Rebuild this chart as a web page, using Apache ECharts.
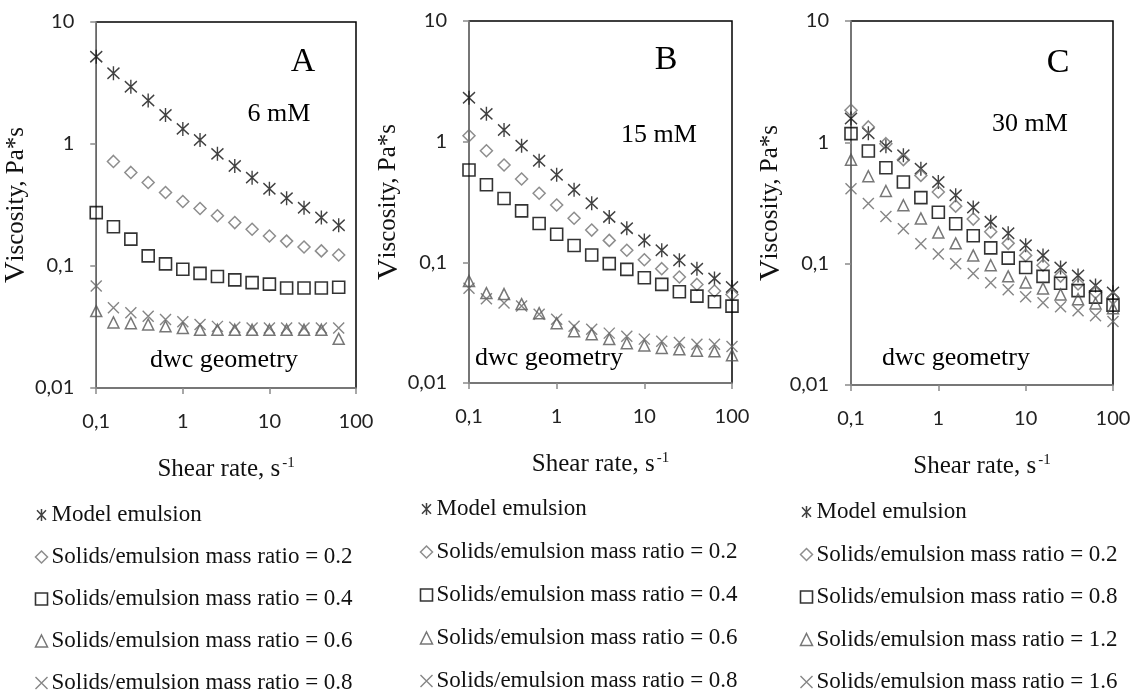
<!DOCTYPE html>
<html>
<head>
<meta charset="utf-8">
<title>Viscosity vs shear rate</title>
<script src="https://cdn.jsdelivr.net/npm/echarts@6/dist/echarts.min.js"></script>
<style>
  html, body { margin: 0; padding: 0; background: #fff; }
  #chart { width: 1135px; height: 692px; }
</style>
</head>
<body>
<div id="chart"></div>
<script>
// shear rate points, 5 per decade
var shearA = [0.1, 0.158, 0.251, 0.398, 0.631, 1, 1.58, 2.51, 3.98, 6.31, 10, 15.8, 25.1, 39.8, 63.1];
var shearBC = [0.1, 0.158, 0.251, 0.398, 0.631, 1, 1.58, 2.51, 3.98, 6.31, 10, 15.8, 25.1, 39.8, 63.1, 100];

// panel A, 6 mM (diamonds start at the 2nd shear rate)
var modelA = [5.2, 3.8, 2.95, 2.27, 1.73, 1.33, 1.08, 0.83, 0.66, 0.53, 0.43, 0.36, 0.30, 0.25, 0.216];
var ratio02A = [0.72, 0.585, 0.484, 0.40, 0.338, 0.296, 0.258, 0.227, 0.20, 0.176, 0.160, 0.143, 0.133, 0.123];
var ratio04A = [0.274, 0.21, 0.166, 0.121, 0.104, 0.094, 0.087, 0.082, 0.077, 0.073, 0.071, 0.066, 0.066, 0.066, 0.067];
var ratio06A = [0.0427, 0.0345, 0.034, 0.0332, 0.032, 0.031, 0.030, 0.030, 0.030, 0.030, 0.030, 0.030, 0.030, 0.030, 0.0253];
var ratio08A = [0.0686, 0.0455, 0.0413, 0.0388, 0.0364, 0.0349, 0.0332, 0.032, 0.0315, 0.031, 0.031, 0.031, 0.031, 0.031, 0.031];

// panel B, 15 mM
var modelB = [2.31, 1.70, 1.25, 0.927, 0.695, 0.532, 0.399, 0.309, 0.238, 0.192, 0.152, 0.126, 0.104, 0.0886, 0.0736, 0.0624];
var ratio02B = [1.12, 0.84, 0.64, 0.49, 0.374, 0.299, 0.232, 0.185, 0.152, 0.126, 0.105, 0.0886, 0.0755, 0.0656, 0.0578, 0.0542];
var ratio04B = [0.582, 0.44, 0.338, 0.267, 0.21, 0.171, 0.138, 0.115, 0.0975, 0.0875, 0.0746, 0.0657, 0.057, 0.0525, 0.0471, 0.0434];
var ratio06B = [0.070, 0.0556, 0.0546, 0.0451, 0.0379, 0.0313, 0.0269, 0.0254, 0.0231, 0.0214, 0.0205, 0.0195, 0.019, 0.0185, 0.0183, 0.0170];
var ratio08B = [0.061, 0.050, 0.046, 0.0434, 0.0372, 0.0338, 0.0296, 0.0279, 0.0259, 0.0244, 0.0231, 0.0222, 0.0217, 0.0209, 0.0209, 0.0201];

// panel C, 30 mM
var modelC = [1.57, 1.19, 0.927, 0.782, 0.607, 0.471, 0.366, 0.29, 0.222, 0.178, 0.142, 0.117, 0.093, 0.080, 0.066, 0.058];
var ratio02C = [1.84, 1.34, 0.975, 0.72, 0.534, 0.39, 0.298, 0.233, 0.183, 0.147, 0.117, 0.097, 0.079, 0.068, 0.058, 0.052];
var ratio08C = [1.18, 0.849, 0.618, 0.471, 0.35, 0.265, 0.213, 0.17, 0.135, 0.111, 0.093, 0.0785, 0.069, 0.060, 0.053, 0.0455];
var ratio12C = [0.72, 0.525, 0.397, 0.303, 0.236, 0.181, 0.147, 0.117, 0.097, 0.0786, 0.070, 0.0625, 0.0558, 0.051, 0.047, 0.043];
var ratio16C = [0.415, 0.313, 0.245, 0.194, 0.146, 0.12, 0.100, 0.083, 0.0697, 0.061, 0.0534, 0.0477, 0.0442, 0.041, 0.0373, 0.0333];

var namesA = ['Model emulsion', 'Solids/emulsion mass ratio = 0.2', 'Solids/emulsion mass ratio = 0.4',
  'Solids/emulsion mass ratio = 0.6', 'Solids/emulsion mass ratio = 0.8'];
var namesB = namesA;
var namesC = ['Model emulsion', 'Solids/emulsion mass ratio = 0.2', 'Solids/emulsion mass ratio = 0.8',
  'Solids/emulsion mass ratio = 1.2', 'Solids/emulsion mass ratio = 1.6'];
var panelLetters = ['A', 'B', 'C'];
var panelConc = ['6 mM', '15 mM', '30 mM'];

var serif = '"Liberation Serif", "DejaVu Serif", serif';
var sans = 'Lato, "Open Sans", sans-serif';

// asterisk = X plus a vertical bar
var starPath = 'path://M5,0L5,12M0.5,1.2L9.5,10.8M0.5,10.8L9.5,1.2';
var crossPath = 'path://M0,0L10,10M0,10L10,0';
var marks = [
  { symbol: starPath, size: [12, 14], legendSize: 12, color: '#111', width: 1.5 },
  { symbol: 'diamond', size: 12, color: '#707070', width: 1.5 },
  { symbol: 'rect', size: 12, color: '#000', width: 1.6 },
  { symbol: 'triangle', size: 11, color: '#555', width: 1.5 },
  { symbol: crossPath, size: 11, color: '#666', width: 1.4 }
];

var grids = [
  { left: 92, top: 22, width: 264, height: 366 },
  { left: 469, top: 21, width: 263, height: 362 },
  { left: 851, top: 21, width: 262, height: 364 }
];

function pairs(xs, ys) {
  var off = xs.length - ys.length;
  return ys.map(function (y, i) { return [xs[i + off], y]; });
}

var panels = [
  { x: shearA, ys: [modelA, ratio02A, ratio04A, ratio06A, ratio08A], names: namesA },
  { x: shearBC, ys: [modelB, ratio02B, ratio04B, ratio06B, ratio08B], names: namesB },
  { x: shearBC, ys: [modelC, ratio02C, ratio08C, ratio12C, ratio16C], names: namesC }
];

function fmt(v) { return String(+v.toPrecision(2)).replace('.', ','); }

var xAxes = [], yAxes = [], series = [], legends = [], texts = [];
var legendPos = [
  { left: 33, top: 503, gap: 18 },
  { left: 418, top: 497, gap: 19 },
  { left: 798, top: 500, gap: 18.5 }
];
var letterPos = [[303, 62], [666, 60], [1058, 63]];
var concPos = [[279, 114], [659, 135], [1030, 124]];
var dwcPos = [[224, 360], [549, 358], [956, 358]];

panels.forEach(function (p, i) {
  xAxes.push({
    type: 'log', logBase: 10, gridIndex: i, min: 0.1, max: 100,
    name: 'Shear rate, s{sup|-1}', nameLocation: 'middle', nameGap: 68,
    nameTextStyle: { fontFamily: serif, fontSize: 25, color: '#111',
      rich: { sup: { fontFamily: serif, fontSize: 15, verticalAlign: 'top', padding: [0, 0, 12, 2] } } },
    axisLine: { lineStyle: { color: '#8a8a8a', width: 1.5 } },
    axisTick: { length: 6, lineStyle: { color: '#8a8a8a', width: 1.5 } },
    minorTick: { show: false },
    splitLine: { show: false },
    axisLabel: { fontFamily: sans, fontSize: 20, color: '#222', margin: 24, formatter: fmt }
  });
  yAxes.push({
    type: 'log', logBase: 10, gridIndex: i, min: 0.01, max: 10,
    name: '{v|V}iscosity, Pa*s', nameLocation: 'middle', nameGap: 56,
    nameTextStyle: { fontFamily: serif, fontSize: 25, color: '#111',
      rich: { v: { fontFamily: serif, fontSize: 30, color: '#111' } } },
    axisLine: { lineStyle: { color: '#8a8a8a', width: 1.5 } },
    axisTick: { length: 6, lineStyle: { color: '#8a8a8a', width: 1.5 } },
    splitLine: { show: false },
    axisLabel: { fontFamily: sans, fontSize: 20, color: '#222', margin: 22, formatter: fmt }
  });
  p.ys.forEach(function (ys, k) {
    var m = marks[k];
    series.push({
      type: 'scatter', name: p.names[k], xAxisIndex: i, yAxisIndex: i,
      symbol: m.symbol, symbolSize: m.size,
      itemStyle: { color: 'none', borderColor: m.color, borderWidth: m.width },
      emphasis: { disabled: true },
      data: pairs(p.x, ys)
    });
  });
  legends.push({
    orient: 'vertical', left: legendPos[i].left, top: legendPos[i].top,
    height: 230, padding: 0,
    itemGap: legendPos[i].gap, itemWidth: 12, itemHeight: 12, selectedMode: false,
    textStyle: { fontFamily: serif, fontSize: 23, lineHeight: 24, color: '#111', padding: [0, 0, 0, -1] },
    data: p.names.map(function (n, k) {
      var m = marks[k];
      return { name: n, icon: m.symbol,
        itemStyle: { color: 'none', borderColor: m.color, borderWidth: m.width } };
    })
  });
  texts.push(
    { type: 'text', x: letterPos[i][0], y: letterPos[i][1],
      style: { text: panelLetters[i], font: '34px ' + serif, fill: '#000', textAlign: 'center', textVerticalAlign: 'middle' } },
    { type: 'text', x: concPos[i][0], y: concPos[i][1],
      style: { text: panelConc[i], font: '26px ' + serif, fill: '#000', textAlign: 'center', textVerticalAlign: 'middle' } },
    { type: 'text', x: dwcPos[i][0], y: dwcPos[i][1],
      style: { text: 'dwc geometry', font: '26px ' + serif, fill: '#000', textAlign: 'center', textVerticalAlign: 'middle' } }
  );
});

var chart = echarts.init(document.getElementById('chart'));
chart.setOption({
  backgroundColor: '#fff',
  animation: false,
  grid: grids.map(function (g) {
    return Object.assign({ show: true, borderColor: '#000', borderWidth: 1.5, backgroundColor: 'transparent', containLabel: false }, g);
  }),
  xAxis: xAxes,
  yAxis: yAxes,
  legend: legends,
  graphic: texts,
  series: series
});
</script>
</body>
</html>
